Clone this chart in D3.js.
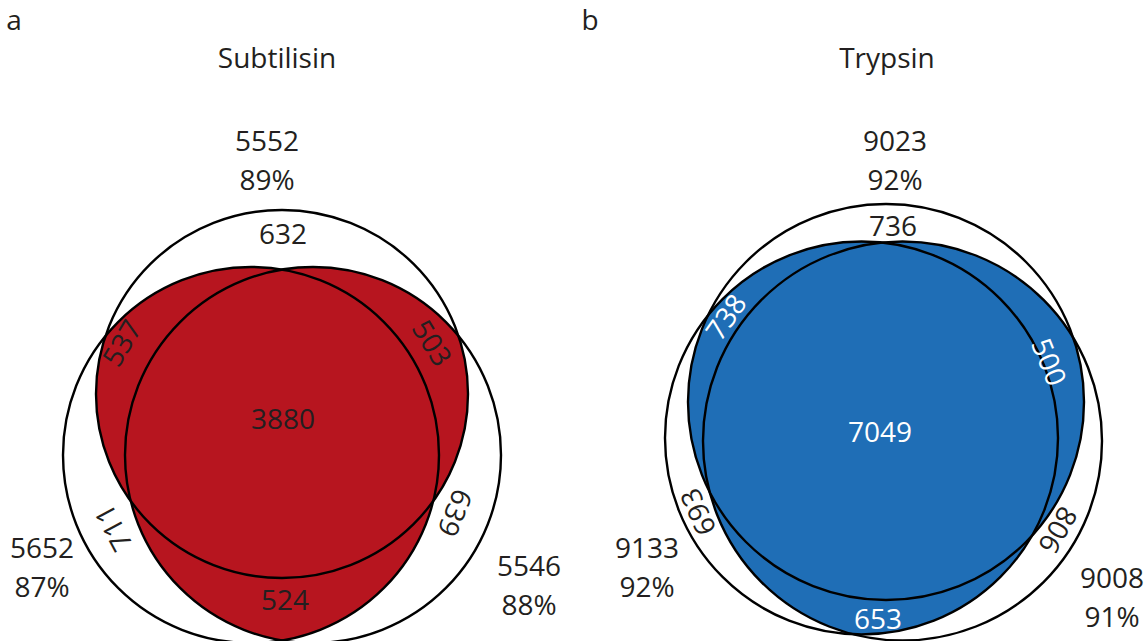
<!DOCTYPE html>
<html lang="en">
<head>
<meta charset="UTF-8">
<title>Venn</title>
<script src="https://d3js.org/d3.v7.min.js"></script>
<style>
  body { margin: 0; background: #fff; }
  text { font-family: 'Open Sans', sans-serif; font-size: 28px; fill: #231f20; }
</style>
</head>
<body>
<script>

    const width  = 1145;
    const height = 641;

    // data
    const panelLetters = ["a", "b"];
    const enzymes = ["Subtilisin", "Trypsin"];
    const regionKeys = ["A", "B", "C", "AB", "AC", "BC", "ABC"];
    const subtilisinRegions = [632, 711, 639, 537, 503, 524, 3880];
    const trypsinRegions    = [736, 693, 806, 738, 500, 653, 7049];
    const subtilisinTotals = [5552, 5652, 5546];
    const trypsinTotals    = [9023, 9133, 9008];
    const subtilisinPct = [89, 87, 88];
    const trypsinPct    = [92, 92, 91];
    const fills = ["#b7151f", "#1f6eb6"];

    // geometry of each panel, px relative to the centre of circle A
    const layouts = [
        {
            origin: [282, 394],
            circles: {A: [0, 0, 186, 184], B: [-31, 61, 188, 188], C: [31, 61, 188, 188]},
            labels: {A: [1, -160], B: [-169, 134], C: [173, 119], AB: [-160, -51],
                     AC: [150, -51], BC: [3, 206], ABC: [1, 25]},
            totals: [[-15, -253], [-240, 154], [247, 172]],
            title: [-5, -326],
            letter: [14, 30],
            inkOnFill: "#231f20"
        },
        {
            origin: [886, 402],
            circles: {A: [0, 0, 198, 198], B: [-24.5, 36, 196.5, 196.5], C: [16.5, 39, 199.5, 199.5]},
            labels: {A: [7, -176], B: [-188, 110], C: [172, 128], AB: [-160, -85],
                     AC: [163, -40], BC: [-8, 217], ABC: [-6, 30]},
            totals: [[9, -261], [-239, 146], [226, 176]],
            title: [1, -334],
            letter: [590, 30],
            inkOnFill: "#ffffff"
        }
    ];
    // which circle a rotated label follows
    const rotateAlong = {B: "B", C: "C", AB: "C", AC: "B"};
    const pairs = [["A", "B"], ["A", "C"], ["B", "C"]];

    const svg = d3.select("body")
            .append("svg")
            .attr("width", width)
            .attr("height", height);

    const defs = svg.append("defs");

    const datasets = [
        {regions: subtilisinRegions, totals: subtilisinTotals, pct: subtilisinPct},
        {regions: trypsinRegions, totals: trypsinTotals, pct: trypsinPct}
    ];

    datasets.forEach((d, i) => draw(d, i));

    function draw(data, index) {
        const lay = layouts[index];
        const x = d3.scaleLinear().domain([-400, 400]).range([lay.origin[0] - 400, lay.origin[0] + 400]);
        const y = d3.scaleLinear().domain([-400, 400]).range([lay.origin[1] - 400, lay.origin[1] + 400]);
        const len = v => x(v) - x(0);

        const g = svg.append("g");

        // clip paths, one per circle
        Object.keys(lay.circles).forEach(k => {
            const c = lay.circles[k];
            defs.append("clipPath")
                    .attr("id", "clip" + index + k)
                    .append("ellipse")
                    .attr("cx", x(c[0]))
                    .attr("cy", y(c[1]))
                    .attr("rx", len(c[2]))
                    .attr("ry", len(c[3]));
        });

        // regions shared by at least two sets
        g.selectAll("ellipse.overlap")
                .data(pairs)
                .enter()
                .append("ellipse")
                .attr("class", "overlap")
                .attr("clip-path", p => "url(#clip" + index + p[0] + ")")
                .attr("cx", p => x(lay.circles[p[1]][0]))
                .attr("cy", p => y(lay.circles[p[1]][1]))
                .attr("rx", p => len(lay.circles[p[1]][2]))
                .attr("ry", p => len(lay.circles[p[1]][3]))
                .style("fill", fills[index]);

        g.selectAll("ellipse.outline")
                .data(["A", "B", "C"])
                .enter()
                .append("ellipse")
                .attr("class", "outline")
                .attr("cx", k => x(lay.circles[k][0]))
                .attr("cy", k => y(lay.circles[k][1]))
                .attr("rx", k => len(lay.circles[k][2]))
                .attr("ry", k => len(lay.circles[k][3]))
                .style("fill", "none")
                .style("stroke", "#000")
                .style("stroke-width", 2.4);

        // region counts
        g.selectAll("text.region")
                .data(regionKeys.map((k, j) => ({key: k, value: data.regions[j]})))
                .enter()
                .append("text")
                .attr("class", "region")
                .attr("text-anchor", "middle")
                .attr("dy", "0.36em")
                .attr("transform", d => {
                    const p = lay.labels[d.key];
                    let t = "translate(" + [x(p[0]), y(p[1])] + ")";
                    if (rotateAlong[d.key]) {
                        const c = lay.circles[rotateAlong[d.key]];
                        const ang = Math.atan2(p[1] - c[1], p[0] - c[0]) * 180 / Math.PI + 90;
                        t += " rotate(" + ang + ")";
                    }
                    return t;
                })
                .style("fill", d => d.key.length > 1 ? lay.inkOnFill : "#231f20")
                .text(d => d.value);

        // set totals and percentages
        const tot = g.selectAll("g.total")
                .data(data.totals.map((v, j) => ({value: v, pct: data.pct[j], pos: lay.totals[j]})))
                .enter()
                .append("g")
                .attr("class", "total")
                .attr("transform", d => "translate(" + [x(d.pos[0]), y(d.pos[1])] + ")");
        tot.append("text")
                .attr("text-anchor", "middle")
                .attr("dy", "0.36em")
                .text(d => d.value);
        tot.append("text")
                .attr("text-anchor", "middle")
                .attr("y", 39)
                .attr("dy", "0.36em")
                .text(d => d.pct + "%");

        g.append("text")
                .attr("x", x(lay.title[0]))
                .attr("y", y(lay.title[1]))
                .attr("text-anchor", "middle")
                .text(enzymes[index]);

        svg.append("text")
                .attr("x", lay.letter[0])
                .attr("y", lay.letter[1])
                .attr("text-anchor", "middle")
                .text(panelLetters[index]);
    }

</script>
</body>
</html>
